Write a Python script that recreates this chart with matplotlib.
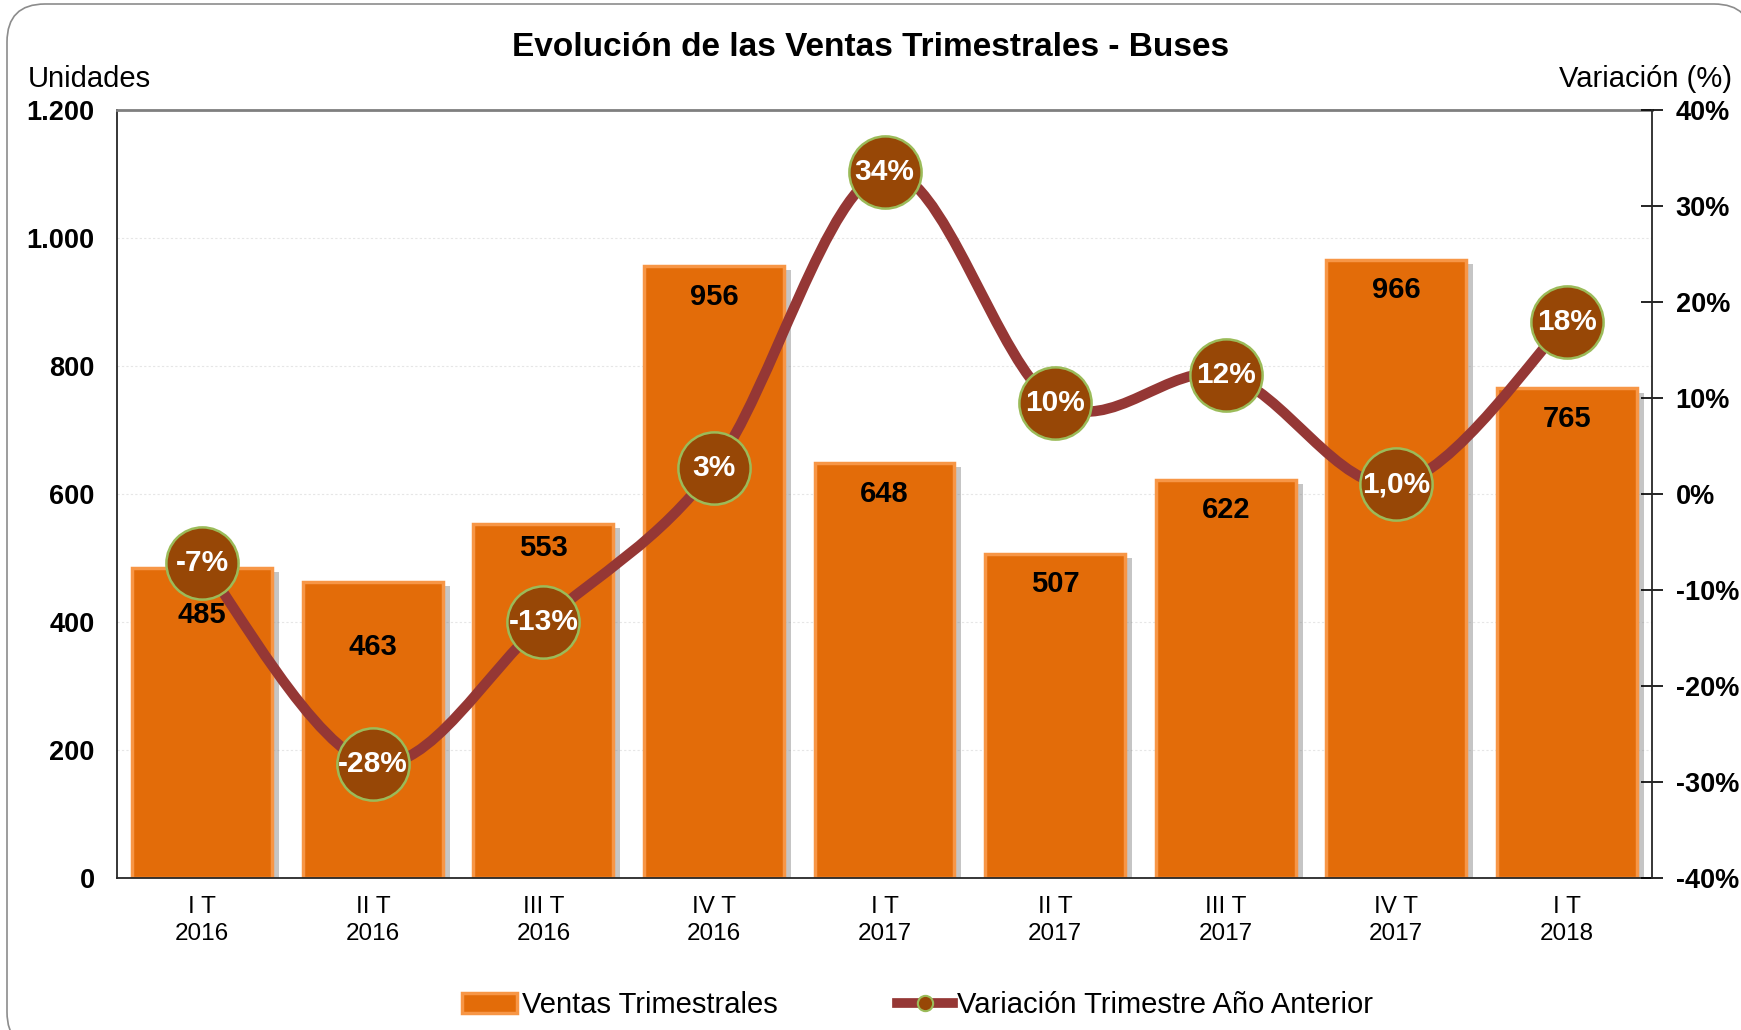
import numpy as np
import matplotlib
matplotlib.use("Agg")
import matplotlib.pyplot as plt
from matplotlib.path import Path
from matplotlib.patches import PathPatch, Patch, FancyBboxPatch
from matplotlib.lines import Line2D
from matplotlib.ticker import FuncFormatter, MultipleLocator
import matplotlib.patheffects as pe

plt.rcParams['font.family'] = ['Liberation Sans', 'DejaVu Sans']

# ── data ─────────────────────────────────────
quarters = ["I T\n2016", "II T\n2016", "III T\n2016", "IV T\n2016", "I T\n2017",
            "II T\n2017", "III T\n2017", "IV T\n2017", "I T\n2018"]
ventas = [485, 463, 553, 956, 648, 507, 622, 966, 765]
variacion = [-7.2, -28.1, -13.3, 2.7, 33.5, 9.5, 12.4, 1.0, 17.9]
variacion_labels = ["-7%", "-28%", "-13%", "3%", "34%", "10%", "12%", "1,0%", "18%"]

# ── colours ──────────────────────────────────
BAR_FACE = '#E36C09'
BAR_EDGE = '#F79646'
LINE_COL = '#953735'
MARK_FACE = '#974706'
MARK_EDGE = '#9BBB59'

# label offsets below the bar top (points) – two are moved to clear the markers
label_drop = [34, 47, 17, 22, 22, 22, 22, 22, 22]


def smooth_path(xs, ys, t=1 / 6):
    """Bezier path through the points (Excel-like smoothed line)."""
    pts = np.column_stack([xs, ys]).astype(float)
    verts = [pts[0]]
    codes = [Path.MOVETO]
    n = len(pts)
    for i in range(n - 1):
        p0 = pts[i - 1] if i > 0 else pts[i]
        p1, p2 = pts[i], pts[i + 1]
        p3 = pts[i + 2] if i + 2 < n else pts[i + 1]
        c1 = p1 + (p2 - p0) * t
        c2 = p2 - (p3 - p1) * t
        verts += [c1, c2, p2]
        codes += [Path.CURVE4] * 3
    return Path(verts, codes)


fig = plt.figure(figsize=(17.41, 10.30), dpi=100)

# rounded chart border
border = FancyBboxPatch((7, -20), 1745, 1046, boxstyle="round,pad=0,rounding_size=38",
                        transform=None, facecolor='white', edgecolor='#8C8C8C', lw=1.2)
fig.add_artist(border)
border.set_zorder(-10)

ax = fig.add_axes([0.0672, 0.1476, 0.8817, 0.7456])
ax.patch.set_alpha(0)
x = np.arange(len(ventas))

bars = ax.bar(x, ventas, width=0.82, color=BAR_FACE, edgecolor=BAR_EDGE, linewidth=2.5, zorder=2)
for b in bars:
    b.set_path_effects([pe.SimplePatchShadow(offset=(5, -3), shadow_rgbFace='#7F7F7F', alpha=0.45),
                        pe.Normal()])

for xi, v, d in zip(x, ventas, label_drop):
    ax.annotate(f"{v}", (xi, v), xytext=(0, -d), textcoords='offset points',
                ha='center', va='center', fontsize=21, fontweight='bold', color='black', zorder=3)

ax.set_xlim(-0.5, len(ventas) - 0.5)
ax.set_ylim(0, 1200)
ax.yaxis.set_major_locator(MultipleLocator(200))
ax.yaxis.set_major_formatter(FuncFormatter(lambda v, p: f"{int(v):,}".replace(",", ".")))
ax.set_xticks(x)
ax.set_xticklabels(quarters, fontsize=17.5, linespacing=1.3)
ax.tick_params(axis='x', length=0, pad=13)
ax.tick_params(axis='y', length=0, pad=16, labelsize=19.5)
for lab in ax.get_yticklabels():
    lab.set_fontweight('bold')
ax.yaxis.grid(True, color='#E6E6E6', linestyle=(0, (2, 2)), lw=0.8)
ax.set_axisbelow(True)

for s in ['left', 'bottom']:
    ax.spines[s].set_color('#262626')
    ax.spines[s].set_linewidth(1.3)
ax.spines['top'].set_color('#7F7F7F')
ax.spines['top'].set_linewidth(2)
ax.spines['right'].set_visible(False)

# secondary axis: variation %
ax2 = ax.twinx()
ax2.set_ylim(-40, 40)
ax2.yaxis.set_major_locator(MultipleLocator(10))
ax2.yaxis.set_major_formatter(FuncFormatter(lambda v, p: f"{int(round(v))}%"))
ax2.tick_params(axis='y', direction='inout', length=16, width=1.2, pad=9, labelsize=19.5)
for lab in ax2.get_yticklabels():
    lab.set_fontweight('bold')
ax2.spines['right'].set_color('#262626')
ax2.spines['right'].set_linewidth(1.3)
for s in ['top', 'left', 'bottom']:
    ax2.spines[s].set_visible(False)

ax2.add_patch(PathPatch(smooth_path(x, variacion), facecolor='none', edgecolor=LINE_COL,
                        lw=7.5, capstyle='round', zorder=3))
ax2.plot(x, variacion, linestyle='none', marker='o', markersize=52,
         markerfacecolor=MARK_FACE, markeredgecolor=MARK_EDGE, markeredgewidth=1.8, zorder=4)
for xi, v, lab in zip(x, variacion, variacion_labels):
    ax2.text(xi, v, lab, ha='center', va='center', color='white', fontsize=21.5,
             fontweight='bold', zorder=5)

fig.text(0.5, 1 - 47 / 1030, "Evolución de las Ventas Trimestrales - Buses",
         ha='center', va='center', fontsize=24, fontweight='bold')
fig.text(28 / 1741, 1 - 79 / 1030, "Unidades", ha='left', va='center', fontsize=21)
fig.text(1732 / 1741, 1 - 79 / 1030, "Variación (%)", ha='right', va='center', fontsize=21)

handles = [Patch(facecolor=BAR_FACE, edgecolor=BAR_EDGE, lw=2.5),
           Line2D([], [], color=LINE_COL, lw=7, marker='o', markersize=11,
                  markerfacecolor=MARK_FACE, markeredgecolor=MARK_EDGE, markeredgewidth=1.5)]
fig.legend(handles, ["Ventas Trimestrales", "Variación Trimestre Año Anterior"],
           loc='center', bbox_to_anchor=(0.527, 1 - 1005 / 1030), ncol=2, frameon=False,
           fontsize=21, columnspacing=4.1, handlelength=1.9, handletextpad=0.15)

fig.savefig("out.png", dpi=100)
